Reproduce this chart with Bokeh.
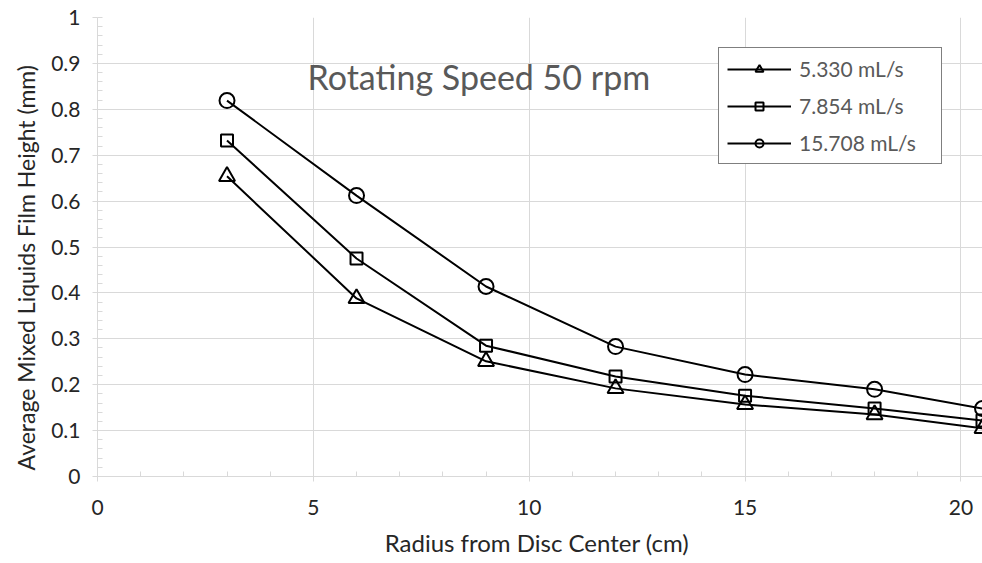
from bokeh.plotting import figure
from bokeh.models import (SingleIntervalTicker, CustomJSTickFormatter, Legend, LegendItem,
                          Label, Range1d, Title)
from bokeh.embed import file_html
from bokeh.resources import INLINE

radius = [3, 6, 9, 12, 15, 18, 20.5]
h_5330 = [0.654, 0.388, 0.251, 0.192, 0.157, 0.135, 0.105]
h_7854 = [0.732, 0.475, 0.285, 0.218, 0.176, 0.148, 0.122]
h_15708 = [0.819, 0.612, 0.414, 0.283, 0.222, 0.190, 0.148]
labels = ["5.330 mL/s", "7.854 mL/s", "15.708 mL/s"]
markers = ["triangle", "square", "circle"]
series = [h_5330, h_7854, h_15708]

FONT = "Lato"
GRID = "#d9d9d9"

p = figure(width=982, height=563, output_backend="svg", toolbar_location=None,
           x_range=Range1d(0, 20.5), y_range=Range1d(0, 1),
           min_border_left=97, min_border_right=0, min_border_top=17, min_border_bottom=87)
p.outline_line_color = None

p.xaxis.ticker = SingleIntervalTicker(interval=5, num_minor_ticks=5)
p.yaxis.ticker = SingleIntervalTicker(interval=0.1, num_minor_ticks=5)
p.yaxis.formatter = CustomJSTickFormatter(code="return String(parseFloat(tick.toFixed(2)));")
p.xaxis.formatter = CustomJSTickFormatter(code="return String(parseFloat(tick.toFixed(2)));")

for ax in (p.xaxis, p.yaxis):
    ax.axis_line_color = GRID
    ax.major_tick_line_color = GRID
    ax.minor_tick_line_color = GRID
    ax.major_tick_out = 5
    ax.major_tick_in = 0
    ax.minor_tick_out = 0
    ax.minor_tick_in = 5
    ax.major_label_text_font = FONT
    ax.major_label_text_font_size = "21px"
    ax.major_label_text_color = "#262626"
    ax.axis_label_text_font = FONT
    ax.axis_label_text_font_style = "normal"
    ax.axis_label_text_color = "#262626"

p.xaxis.axis_label = "Radius from Disc Center  (cm)"
p.xaxis.axis_label_text_font_size = "24px"
p.xaxis.major_label_standoff = 18
p.yaxis.major_label_standoff = 12
p.xaxis.axis_label_standoff = 10

p.xgrid.ticker = p.xaxis.ticker
p.ygrid.ticker = p.yaxis.ticker
p.xgrid.grid_line_color = GRID
p.ygrid.grid_line_color = GRID

sizes = {"triangle": 16, "square": 12, "circle": 15}
items = []
for lab, mk, ys in zip(labels, markers, series):
    lr = p.line(radius, ys, line_color="black", line_width=2)
    sr = p.scatter(radius, ys, marker=mk, size=sizes[mk],
                   line_color="black", line_width=2, fill_alpha=0)
    items.append(LegendItem(label=lab, renderers=[lr, sr]))

legend = Legend(items=items, location=(621, 312))
legend.border_line_color = "black"
legend.border_line_width = 1.5
legend.label_text_font = FONT
legend.label_text_font_size = "21px"
legend.label_text_color = "#595959"
legend.glyph_width = 64
legend.glyph_height = 20
legend.label_height = 20
legend.label_width = 134
legend.spacing = 12
legend.padding = 8
legend.margin = 0
legend.label_standoff = 8
legend.background_fill_alpha = 1
p.add_layout(legend, "center")

title = Label(x=210, y=400, x_units="screen", y_units="screen",
              text="Rotating Speed  50 rpm", text_font=FONT, text_font_size="34px",
              text_color="#595959", text_baseline="middle")
p.add_layout(title)

ytitle = Title(text="Average Mixed Liquids Film Height (mm)", align="left",
               text_font=FONT, text_font_size="23px", text_font_style="normal",
               text_color="#262626", offset=6, standoff=17)
p.add_layout(ytitle, "left")

open("out.html", "w").write(file_html(p, INLINE))
